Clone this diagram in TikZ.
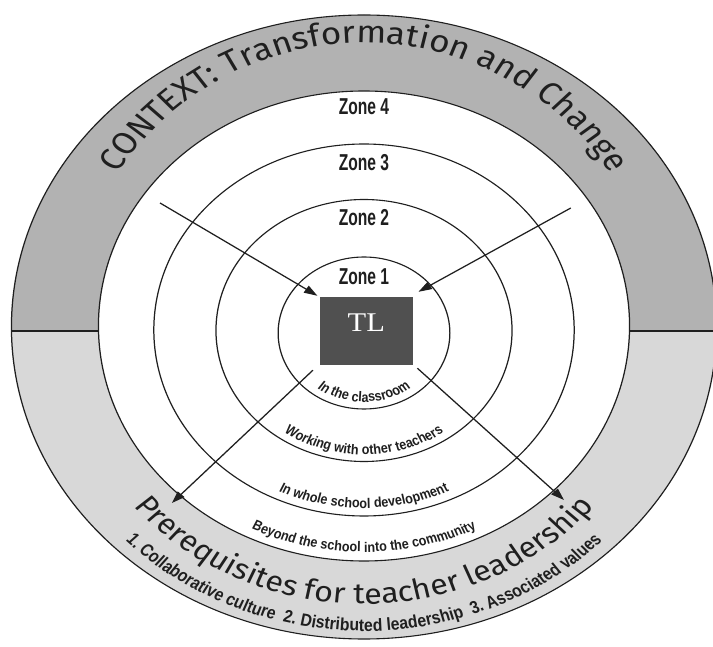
\documentclass[tikz,border=0pt]{standalone}
\usepackage{fontspec}
\setmainfont{Liberation Serif}
\newfontfamily\bigfont{Fira Sans}
\newfontfamily\narrowfont[FakeStretch=0.8]{Liberation Sans}
\newfontfamily\zonefont[FakeStretch=0.6]{Liberation Sans}
\usetikzlibrary{decorations.text,arrows.meta}
\definecolor{bandtop}{HTML}{B2B2B2}
\definecolor{bandbot}{HTML}{D8D8D8}
\definecolor{tlfill}{HTML}{505050}
\definecolor{ink}{HTML}{1F1F1F}
\newcommand\smalllbl{\narrowfont\bfseries\fontsize{14}{14}\selectfont}
\newcommand\prereqlbl{\narrowfont\bfseries\fontsize{17.5}{17.5}\selectfont}
\newcommand\toplbl{\bigfont\fontsize{31}{31}\selectfont}
\newcommand\botlbl{\bigfont\fontsize{28.5}{28.5}\selectfont}
\begin{document}
\begin{tikzpicture}[x=1pt,y=1pt,
  ring/.style={draw=ink,line width=1.1pt},
  arr/.style={draw=ink,line width=1.2pt,-{Triangle[length=12pt,width=8pt]}},
  zonelbl/.style={font=\zonefont\bfseries\fontsize{23}{23}\selectfont,text=ink,inner sep=0pt},
]
\useasboundingbox (0,0) rectangle (713,646);
\fill[white] (0,0) rectangle (713,646);
\begin{scope}[transform canvas={shift={(364,317)},xscale=1.13}]
  % grey band
  \begin{scope}
    \clip (-330,-2) rectangle (330,330);
    \fill[bandtop,even odd rule] (0,2) circle[radius=312] (0,3) circle[radius=235];
  \end{scope}
  \begin{scope}
    \clip (-330,-2) rectangle (330,-330);
    \fill[bandbot,even odd rule] (0,2) circle[radius=312] (0,3) circle[radius=235];
  \end{scope}
  \draw[ring] (0,2) circle[radius=312];
  \draw[ring] (0,3) circle[radius=235];
  \draw[ring] (-312,-2) -- (-235,-2);
  \draw[ring] (235,-2) -- (312,-2);
  \draw[ring] (0,-1) circle[radius=186];
  \draw[ring] (0,-1.5) circle[radius=131];
  \draw[ring] (0,-4) circle[radius=76];

  % centre box
  \node[fill=tlfill,minimum width=82pt,minimum height=68pt,inner sep=0pt] (tl) at (2,-2) {};
  \node[text=white,font=\fontsize{27}{27}\selectfont,inner sep=0pt] (tltxt) at (2,6) {TL};

  % zone labels
  \node[zonelbl] (z4) at (0,222) {Zone 4};
  \node[zonelbl] (z3) at (0,166) {Zone 3};
  \node[zonelbl] (z2) at (0,111) {Zone 2};
  \node[zonelbl] (z1) at (0,52) {Zone 1};

  % arrows
  \coordinate (a1) at (-180.5,126);
  \coordinate (a2) at (183,121);
  \coordinate (a3) at (-170,-174);
  \coordinate (a4) at (177,-171);
  \draw[arr] (a1) -- ([shift={(-2,1)}]tl.north west);
  \draw[arr] (a2) -- ([shift={(5,5)}]tl.north east);
  \draw[arr] ([shift={(-6,-5)}]tl.south west) -- (a3);
  \draw[arr] ([shift={(4,-3)}]tl.south east) -- (a4);

  % curved zone descriptions
  \path[decorate,decoration={text along path,text align=center,text color=ink,
     text={|\smalllbl|In the classroom}}]
     (0,-4) ++(200:69) arc[start angle=200,end angle=340,radius=69];
  \path[decorate,decoration={text along path,text align=center,text color=ink,
     text={|\smalllbl|Working with other teachers}}]
     (0,-1.5) ++(200:124) arc[start angle=200,end angle=340,radius=124];
  \path[decorate,decoration={text along path,text align=center,text color=ink,
     text={|\smalllbl|In whole school development}}]
     (0,-1) ++(200:178) arc[start angle=200,end angle=340,radius=178];
  \path[decorate,decoration={text along path,text align=center,text color=ink,
     text={|\smalllbl|Beyond the school into the community}}]
     (0,3) ++(200:226) arc[start angle=200,end angle=340,radius=226];

  % band texts
  \path[decorate,decoration={text along path,text align=center,text color=ink,
     text={|\toplbl|CONTEXT: Transformation and Change}}]
     ({260*cos(175)},{286*sin(175)}) arc[start angle=175,end angle=5,x radius=260,y radius=286];
  \path[decorate,decoration={text along path,text align=center,text color=ink,
     text={|\botlbl|Prerequisites for teacher leadership}}]
     ({268*cos(195)},{2+277*sin(195)}) arc[start angle=195,end angle=345,x radius=268,y radius=277];
  \path[decorate,decoration={text along path,text align=center,text color=ink,
     text={|\prereqlbl|1. Collaborative culture~ 2. Distributed leadership~ 3. Associated values}}]
     ({297*cos(200)},{2+304*sin(200)}) arc[start angle=200,end angle=340,x radius=297,y radius=304];
\end{scope}
\end{tikzpicture}
\end{document}
